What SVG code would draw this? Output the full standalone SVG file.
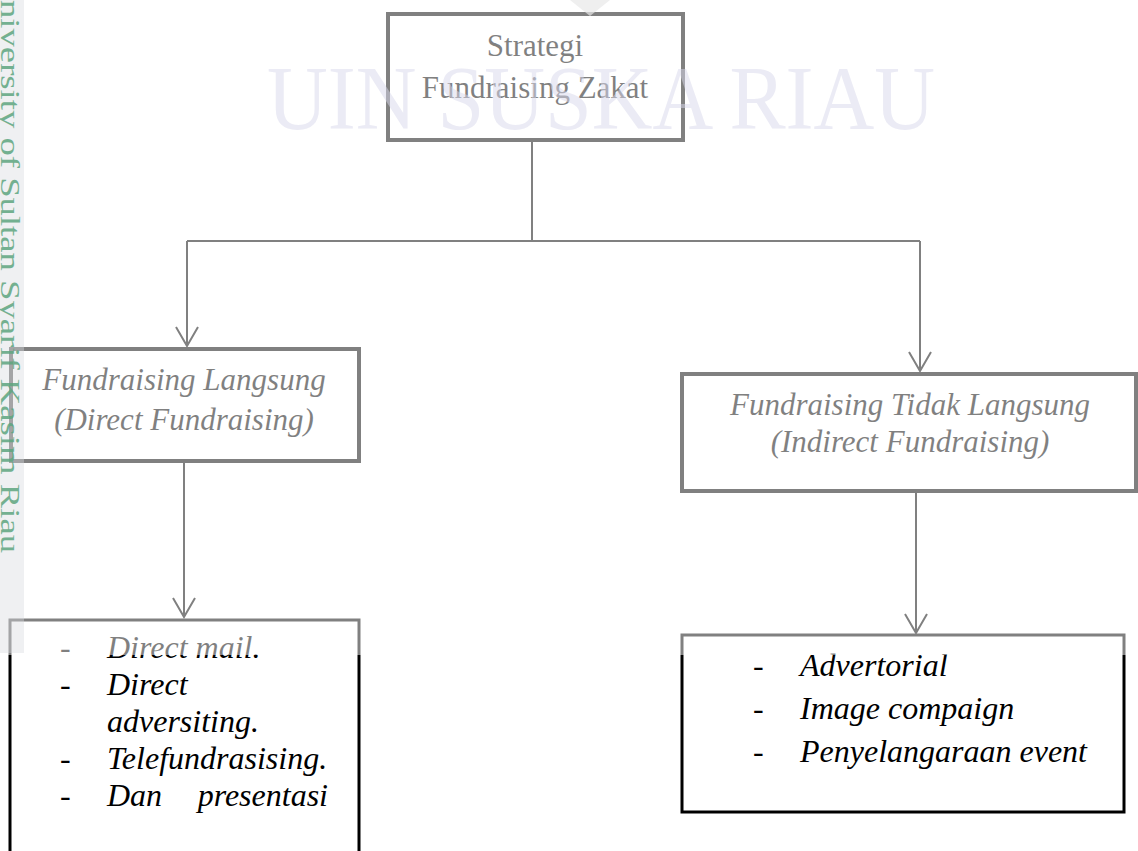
<svg xmlns="http://www.w3.org/2000/svg" width="1138" height="851" viewBox="0 0 1138 851">
  <style>
    .box { fill: #ffffff; stroke: #000000; }
    .thick { stroke-width: 4; }
    .thin { stroke-width: 3; }
    .conn { stroke: #000000; stroke-width: 2; fill: none; }
    .t { font-family: 'Liberation Serif', serif; fill: #000000; }
    .h { font-size: 31px; }
    .i { font-size: 32px; font-style: italic; }
    .d { font-size: 32px; }
  </style>
  <rect width="1138" height="851" fill="#ffffff"/>

  <g id="connectors">
    <line class="conn" x1="532" y1="141" x2="532" y2="241"/>
    <line class="conn" x1="187" y1="241" x2="920" y2="241"/>
    <path class="conn" d="M187 241 V346 M176 327 L187 346 L198 327"/>
    <path class="conn" d="M920 241 V371 M909 352 L920 371 L931 352"/>
    <path class="conn" d="M184 462 V617 M173 598 L184 617 L195 598"/>
    <path class="conn" d="M916 492 V633 M905 614 L916 633 L927 614"/>
  </g>

  <g font-family="Liberation Serif, serif">
  <g id="node-strategi">
    <rect class="box thick" x="388" y="14" width="295" height="126"/>
    <text class="t h" x="535" y="56" text-anchor="middle">Strategi</text>
    <text class="t h" x="535" y="98" text-anchor="middle">Fundraising Zakat</text>
  </g>

  <g id="node-langsung">
    <rect class="box thick" x="11" y="349" width="348" height="112"/>
    <text class="t h" x="184" y="390" text-anchor="middle" font-style="italic">Fundraising Langsung</text>
    <text class="t h" x="184" y="430" text-anchor="middle" font-style="italic">(Direct Fundraising)</text>
  </g>

  <g id="node-tidak-langsung">
    <rect class="box thick" x="682" y="374" width="454" height="117"/>
    <text class="t h" x="910" y="415" text-anchor="middle" font-style="italic">Fundraising Tidak Langsung</text>
    <text class="t h" x="910" y="452" text-anchor="middle" font-style="italic">(Indirect Fundraising)</text>
  </g>

  <g id="node-direct-list">
    <rect class="box thin" x="10" y="620" width="349" height="260"/>
    <text class="t d" x="60" y="658">-</text>
    <text class="t i" x="107" y="658">Direct mail.</text>
    <text class="t d" x="60" y="695">-</text>
    <text class="t i" x="107" y="695">Direct</text>
    <text class="t i" x="107" y="732">adversiting.</text>
    <text class="t d" x="60" y="769">-</text>
    <text class="t i" x="107" y="769">Telefundrasising.</text>
    <text class="t d" x="60" y="806">-</text>
    <text class="t i" x="107" y="806">Dan</text>
    <text class="t i" x="328" y="806" text-anchor="end">presentasi</text>
  </g>

  <g id="node-indirect-list">
    <rect class="box thin" x="682" y="635" width="442" height="177"/>
    <text class="t d" x="753" y="676">-</text>
    <text class="t i" x="800" y="676">Advertorial</text>
    <text class="t d" x="753" y="719">-</text>
    <text class="t i" x="800" y="719">Image compaign</text>
    <text class="t d" x="753" y="762">-</text>
    <text class="t i" x="800" y="762">Penyelangaraan event</text>
  </g>
  </g>

  <!-- page wash over upper part -->
  <rect x="0" y="0" width="1138" height="655" fill="#ffffff" opacity="0.5"/>

  <!-- watermark -->
  <polygon points="570,0 610,0 590,16" fill="#e8e8e8" opacity="0.7"/>
  <text x="267" y="129" font-family="Liberation Serif, serif" font-size="90" fill="#d8d8ec" opacity="0.5" textLength="668" lengthAdjust="spacingAndGlyphs">UIN SUSKA RIAU</text>

  <!-- side strip -->
  <rect x="0" y="0" width="24" height="653" fill="#d6dade" opacity="0.4"/>
  <text transform="translate(1,0) rotate(90)" font-family="Liberation Serif, serif" font-size="27" fill="#5ea67f" opacity="0.85" textLength="553" lengthAdjust="spacingAndGlyphs">niversity of Sultan Syarif Kasim Riau</text>
</svg>
